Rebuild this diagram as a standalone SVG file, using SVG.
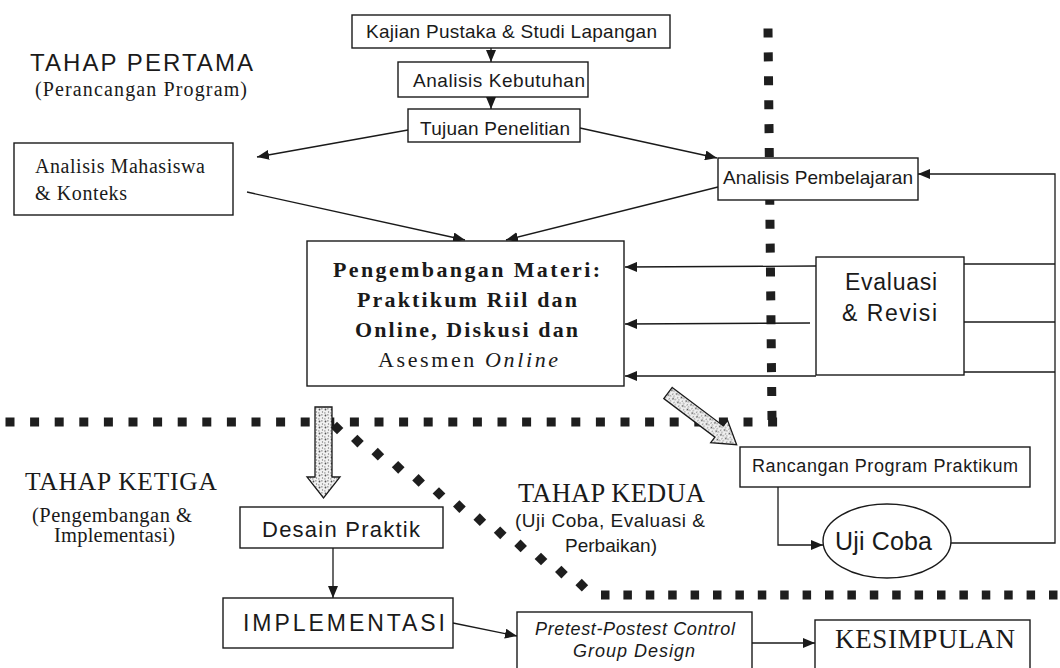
<svg xmlns="http://www.w3.org/2000/svg" xmlns:xlink="http://www.w3.org/1999/xlink" width="1060" height="668" viewBox="0 0 1060 668">
<style>
.box{fill:#fff;stroke:#1a1a1a;stroke-width:1.4}
.ln{fill:none;stroke:#1a1a1a;stroke-width:1.3}
.sans{font-family:"Liberation Sans",Arial,sans-serif;fill:#1a1a1a}
.serif{font-family:"Liberation Serif","Times New Roman",serif;fill:#1a1a1a}
.dot{fill:none;stroke:#1e1e1e;stroke-width:9}
.hatch{fill:url(#speck);stroke:#1a1a1a;stroke-width:1.3}
</style>
<defs>
<marker id="ah" viewBox="0 0 12 10" refX="12" refY="5" markerWidth="12" markerHeight="10" markerUnits="userSpaceOnUse" orient="auto"><path d="M0,0 L12,5 L0,10 z" fill="#1a1a1a"/></marker>
<pattern id="speck" width="6" height="6" patternUnits="userSpaceOnUse"><rect width="6" height="6" fill="#f2f2f2"/><circle cx="1.5" cy="1.5" r="0.9" fill="#555"/><circle cx="4.5" cy="4" r="0.7" fill="#777"/><rect x="3" y="0.5" width="1.6" height="0.8" fill="#666"/><rect x="0.5" y="4.2" width="0.8" height="1.4" fill="#666"/></pattern>
<rect id="dm" x="-4.5" y="-4.5" width="9" height="9" transform="rotate(45)" fill="#1e1e1e"/>
</defs>
<rect width="1060" height="668" fill="#fff"/>

<g id="separators">
<line class="dot" x1="5.5" y1="422" x2="778" y2="422" stroke-dasharray="9 15.6"/>
<line class="dot" x1="768" y1="28.5" x2="772" y2="420" stroke-dasharray="9 14.9"/>
<line class="dot" x1="601" y1="595" x2="1060" y2="595" stroke-dasharray="8.5 13.9"/>
<use xlink:href="#dm" href="#dm" x="337" y="428"/>
<use xlink:href="#dm" href="#dm" x="357.4" y="441.1"/>
<use xlink:href="#dm" href="#dm" x="377.8" y="454.2"/>
<use xlink:href="#dm" href="#dm" x="398.2" y="467.3"/>
<use xlink:href="#dm" href="#dm" x="418.6" y="480.4"/>
<use xlink:href="#dm" href="#dm" x="439" y="493.5"/>
<use xlink:href="#dm" href="#dm" x="459.4" y="506.6"/>
<use xlink:href="#dm" href="#dm" x="479.8" y="519.7"/>
<use xlink:href="#dm" href="#dm" x="500.2" y="532.8"/>
<use xlink:href="#dm" href="#dm" x="520.6" y="545.9"/>
<use xlink:href="#dm" href="#dm" x="541" y="559"/>
<use xlink:href="#dm" href="#dm" x="561.4" y="572.1"/>
<use xlink:href="#dm" href="#dm" x="581.8" y="585.2"/>
</g>

<g id="stage-labels">
<text class="sans" x="30" y="71" font-size="24" textLength="223">TAHAP PERTAMA</text>
<text class="serif" x="35" y="96" font-size="20" textLength="212">(Perancangan Program)</text>
<text class="serif" x="25" y="490" font-size="25.5" textLength="192">TAHAP KETIGA</text>
<text class="serif" x="32" y="522" font-size="20.5" textLength="160">(Pengembangan &amp;</text>
<text class="serif" x="54" y="542" font-size="20.5" textLength="121">Implementasi)</text>
<text class="serif" x="518" y="502" font-size="26.5" textLength="187">TAHAP KEDUA</text>
<text class="sans" x="515" y="527" font-size="19" textLength="190">(Uji Coba, Evaluasi &amp;</text>
<text class="sans" x="565" y="552" font-size="19" textLength="92">Perbaikan)</text>
</g>

<g id="connectors">
<line class="ln" x1="491" y1="48" x2="491" y2="62" marker-end="url(#ah)"/>
<line class="ln" x1="491" y1="97" x2="491" y2="109" marker-end="url(#ah)"/>
<line class="ln" x1="408" y1="130" x2="257" y2="157" marker-end="url(#ah)"/>
<line class="ln" x1="580" y1="128" x2="717" y2="158" marker-end="url(#ah)"/>
<line class="ln" x1="247" y1="192" x2="465" y2="240" marker-end="url(#ah)"/>
<line class="ln" x1="718" y1="187" x2="506" y2="240" marker-end="url(#ah)"/>
<line class="ln" x1="816" y1="266" x2="625" y2="267" marker-end="url(#ah)"/>
<line class="ln" x1="810" y1="323" x2="625" y2="324" marker-end="url(#ah)"/>
<line class="ln" x1="816" y1="376" x2="625" y2="376" marker-end="url(#ah)"/>
<line class="ln" x1="964" y1="264" x2="1055" y2="264"/>
<line class="ln" x1="964" y1="322" x2="1055" y2="322"/>
<line class="ln" x1="964" y1="372" x2="1055" y2="372"/>
<path class="ln" d="M951,543 L1055,543 L1055,174 L918,174" marker-end="url(#ah)"/>
<path class="ln" d="M778,487 L778,545 L823,545" marker-end="url(#ah)"/>
<line class="ln" x1="333" y1="548" x2="333" y2="598" marker-end="url(#ah)"/>
<line class="ln" x1="453" y1="623" x2="517" y2="636" marker-end="url(#ah)"/>
<line class="ln" x1="752" y1="643" x2="815" y2="643" marker-end="url(#ah)"/>
<path class="hatch" d="M315,407 L332,407 L332,477 L340,477 L323.5,498 L307,477 L315,477 Z"/>
<path class="hatch" transform="translate(668,393) rotate(37)" d="M0,-7 L64,-7 L64,-14 L86,0 L64,14 L64,7 L0,7 Z"/>
</g>

<g id="kajian">
<rect class="box" x="352" y="15" width="318" height="33"/>
<text class="sans" x="366" y="38" font-size="19" textLength="291">Kajian Pustaka &amp; Studi Lapangan</text>
</g>
<g id="analisis-kebutuhan">
<rect class="box" x="398" y="62" width="190" height="35"/>
<text class="sans" x="413" y="87" font-size="19" textLength="172">Analisis Kebutuhan</text>
</g>
<g id="tujuan">
<rect class="box" x="408" y="109" width="172" height="33"/>
<text class="sans" x="420" y="135" font-size="19" textLength="150">Tujuan Penelitian</text>
</g>
<g id="analisis-mahasiswa">
<rect class="box" x="14" y="143" width="219" height="72"/>
<text class="serif" x="35" y="173" font-size="20" textLength="170">Analisis Mahasiswa</text>
<text class="serif" x="35" y="200" font-size="20" textLength="92">&amp; Konteks</text>
</g>
<g id="analisis-pembelajaran">
<rect class="box" x="718" y="158" width="200" height="42"/>
<text class="sans" x="723" y="184" font-size="19" textLength="190">Analisis Pembelajaran</text>
</g>
<g id="pengembangan">
<rect class="box" x="307" y="241" width="317" height="145"/>
<text class="serif" x="333" y="277" font-size="22" font-weight="bold" textLength="267">Pengembangan Materi:</text>
<text class="serif" x="357" y="307" font-size="22" font-weight="bold" textLength="220">Praktikum Riil dan</text>
<text class="serif" x="355" y="337" font-size="22" font-weight="bold" textLength="223">Online, Diskusi dan</text>
<text class="serif" x="378" y="367" font-size="22" textLength="180">Asesmen <tspan font-style="italic">Online</tspan></text>
</g>
<g id="evaluasi">
<rect class="box" x="816" y="257" width="148" height="118"/>
<text class="sans" x="845" y="290" font-size="23" textLength="92">Evaluasi</text>
<text class="sans" x="842" y="321" font-size="23" textLength="95">&amp; Revisi</text>
</g>
<g id="rancangan">
<rect class="box" x="740" y="447" width="290" height="40"/>
<text class="sans" x="752" y="472" font-size="18" textLength="266">Rancangan Program Praktikum</text>
</g>
<g id="uji-coba">
<ellipse class="box" cx="887" cy="541" rx="64" ry="37"/>
<text class="sans" x="835" y="550" font-size="25" textLength="97">Uji Coba</text>
</g>
<g id="desain">
<rect class="box" x="240" y="507" width="203" height="41"/>
<text class="sans" x="262" y="537" font-size="22" textLength="158">Desain Praktik</text>
</g>
<g id="implementasi">
<rect class="box" x="223" y="598" width="230" height="50"/>
<text class="sans" x="243" y="631" font-size="23" textLength="202">IMPLEMENTASI</text>
</g>
<g id="pretest">
<rect class="box" x="517" y="612" width="235" height="60"/>
<text class="sans" x="535" y="635" font-size="18" font-style="italic" textLength="200">Pretest-Postest Control</text>
<text class="sans" x="573" y="657" font-size="18" font-style="italic" textLength="122">Group Design</text>
</g>
<g id="kesimpulan">
<rect class="box" x="815" y="620" width="215" height="52"/>
<text class="serif" x="835" y="648" font-size="27" textLength="180">KESIMPULAN</text>
</g>
</svg>
